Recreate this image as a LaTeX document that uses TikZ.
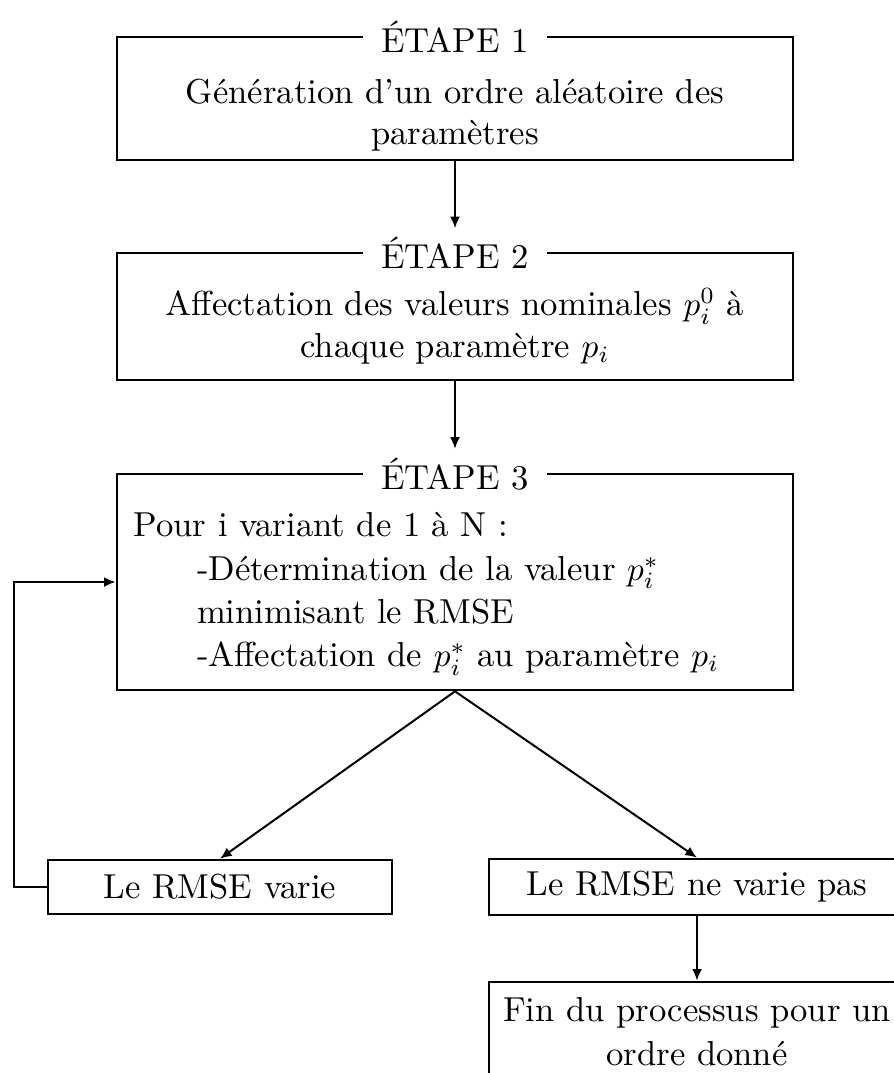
\documentclass[tikz,border=0pt]{standalone}
\usepackage{fontspec}
\usetikzlibrary{arrows.meta}
\begin{document}
\begin{tikzpicture}[x=0.3pt,y=-0.3pt,
  font=\fontsize{10.4}{12.5}\selectfont,
  box/.style={draw, line width=0.8pt, minimum width=202.8pt, inner sep=0pt},
  txt/.style={align=center, inner sep=0pt},
  ttl/.style={fill=white, inner xsep=5.5pt, inner ysep=2.5pt},
  arr/.style={-{Latex[length=3.5pt,width=3pt]}, line width=0.6pt},
  smallbox/.style={draw, line width=0.8pt, align=center, inner sep=0pt}]
\useasboundingbox (0,0) rectangle (894,1073);
\clip (0,0) rectangle (894,1073);
% step boxes
\node[box, minimum height=36.9pt] (b1) at (455,98.5) {};
\node[txt] (x1) at (455,115) {Génération d'un ordre aléatoire des\\paramètres};
\node[ttl] (t1) at (455,37) {ÉTAPE 1};
\node[box, minimum height=38.1pt] (b2) at (455,316.5) {};
\node[txt] (x2) at (455,326) {Affectation des valeurs nominales $p_i^0$\ à\\chaque paramètre $p_i$};
\node[ttl] (t2) at (455,253) {ÉTAPE 2};
\node[box, minimum height=64.8pt] (b3) at (455,582) {};
\node[txt, align=left, anchor=west, font={\fontsize{10.4}{13}\selectfont}] (x3) at (133,594)
  {Pour i variant de 1 à N :\\
   \hspace*{19pt}-Détermination de la valeur $p_i^*$\\
   \hspace*{19pt}minimisant le RMSE\\
   \hspace*{19pt}-Affectation de $p_i^*$ au paramètre $p_i$};
\node[ttl] (t3) at (455,474) {ÉTAPE 3};
% outcome boxes
\node[smallbox, minimum width=103.2pt, minimum height=16.2pt] (v) at (220,887) {Le RMSE varie};
\node[smallbox, minimum width=124.8pt, minimum height=16.8pt] (nv) at (697,887) {Le RMSE ne varie pas};
\node[smallbox, minimum width=124.8pt, minimum height=30pt, font={\fontsize{10.4}{13.2}\selectfont}] (fin) at (697,1032) {Fin du processus pour un\\ordre donné};
% connectors
\draw[arr] (b1.south) -- (t2.north);
\draw[arr] (b2.south) -- (t3.north);
\draw[arr] (b3.south) -- (v.north);
\draw[arr] (b3.south) -- (nv.north);
\draw[arr] (nv.south) -- (fin.north);
\coordinate (lp) at (14,887);
\draw[arr] (v.west) -- (lp) |- (b3.west);
\end{tikzpicture}
\end{document}
